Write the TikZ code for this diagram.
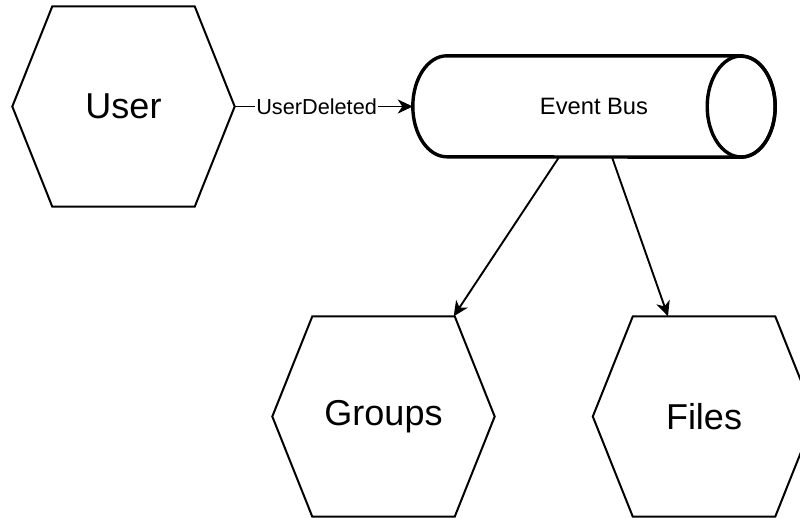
\documentclass[tikz,border=0pt]{standalone}
\usepackage{fontspec}
\setmainfont{Liberation Sans}
\usetikzlibrary{arrows.meta,calc}

\tikzset{
  hexbox/.style={minimum width=222pt, minimum height=200pt, inner sep=0pt,
    font=\fontsize{36}{40}\selectfont},
  hexline/.style={line width=2pt, line join=miter, fill=white},
  busbox/.style={minimum width=362pt, minimum height=101pt, inner sep=0pt,
    font=\fontsize{23.7}{28}\selectfont},
  busline/.style={line width=3.4pt, fill=white},
  flow/.style={line width=1.9pt, -{Stealth[length=15pt,width=14pt,inset=4.5pt]}},
  flowlabel/.style={fill=white, inner sep=1pt, font=\fontsize{21.7}{26}\selectfont},
}

% hexagon drawn round a named box node, corners inset by 40pt
\newcommand\drawhex[1]{%
  \draw[hexline] ($(#1.north west)+(40,0)$) -- ($(#1.north east)+(-40,0)$)
    -- (#1.east) -- ($(#1.south east)+(-40,0)$) -- ($(#1.south west)+(40,0)$)
    -- (#1.west) -- cycle;}

\begin{document}
\begin{tikzpicture}[x=1pt, y=-1pt]
  \clip (0,0) rectangle (800,517);
  \fill[white] (0,0) rectangle (800,517);

  % services
  \node[hexbox] (user)   at (123.5,106.5) {};
  \node[hexbox] (groups) at (383.5,416.5) {};
  \node[hexbox] (files)  at (704,416.5) {};
  \drawhex{user}
  \drawhex{groups}
  \drawhex{files}
  \node[hexbox] at (user)   {User};
  \node[hexbox] at (groups) {Groups};
  \node[hexbox] at (files)  {Files};

  % event bus cylinder
  \node[busbox] (bus) at (594,106.5) {};
  \draw[busline] ($(bus.north east)+(-34,0)$) -- ($(bus.north west)+(34,0)$)
    arc[start angle=90, end angle=270, x radius=34pt, y radius=50.5pt]
    -- ($(bus.south east)+(-34,0)$)
    arc[start angle=270, end angle=450, x radius=34pt, y radius=50.5pt] -- cycle;
  \draw[line width=3.4pt] ($(bus.east)+(-34,0)$) ellipse[x radius=34pt, y radius=50.5pt];
  \node[busbox] at (bus) {Event Bus};

  % connectors
  \draw[flow] (user.east) -- node[flowlabel, pos=0.46] {UserDeleted} (bus.west);
  \draw[flow] ($(bus.south)+(-35,0)$) -- ($(groups.north east)+(-41,0)$);
  \draw[flow] ($(bus.south)+(18,0)$) -- ($(files.north)+(-36,0)$);
\end{tikzpicture}
\end{document}
